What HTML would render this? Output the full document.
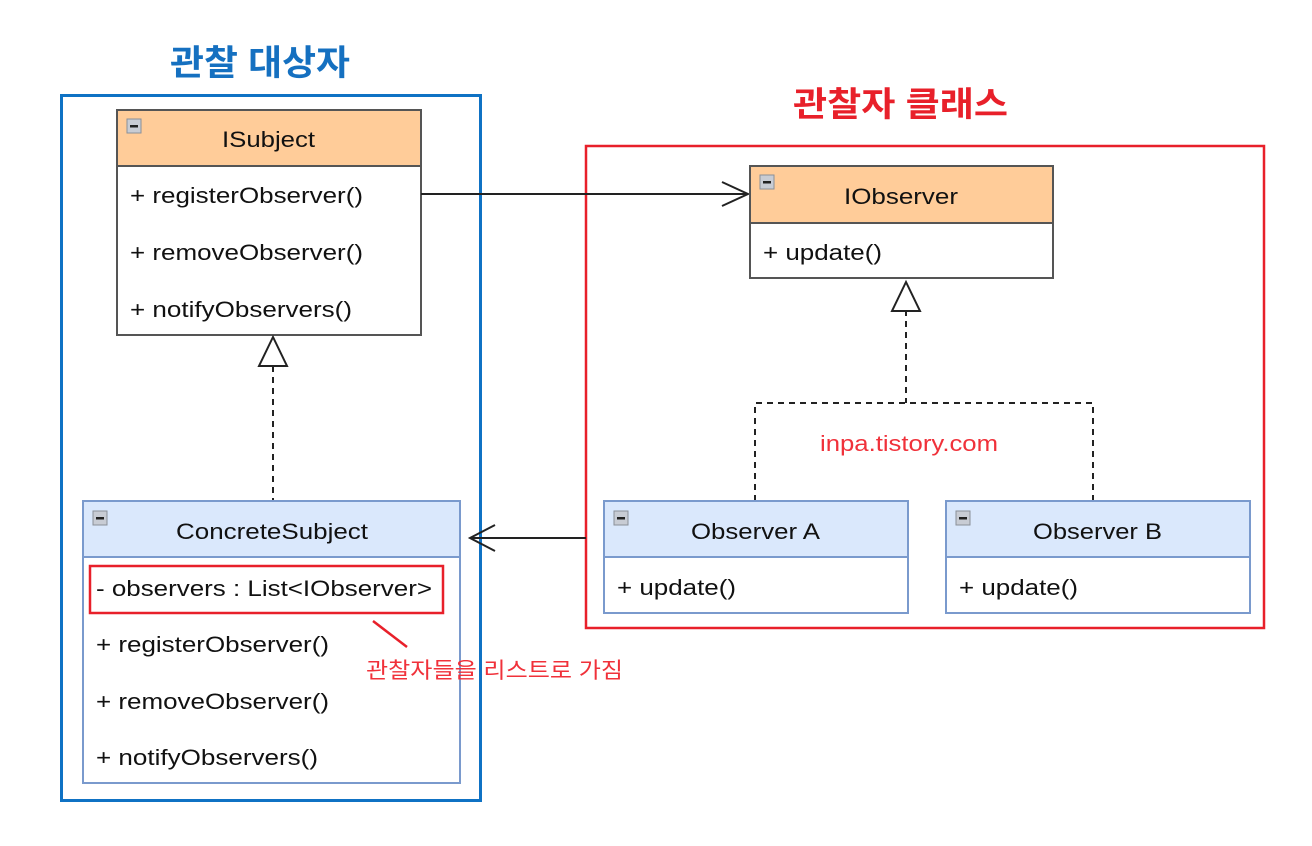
<!DOCTYPE html>
<html><head><meta charset="utf-8"><style>
html,body{margin:0;padding:0;background:#fff;}
svg{display:block;}
text{font-family:"Liberation Sans","Noto Sans CJK KR",sans-serif;}
</style></head><body>
<svg width="1312" height="846" viewBox="0 0 1312 846" xmlns="http://www.w3.org/2000/svg">
<defs>
<g id="mini"><rect x="0" y="0" width="14" height="14" fill="#c8ccd4" stroke="#8a8f99" stroke-width="1"/><rect x="3" y="6" width="8" height="2.5" fill="#222"/></g>
</defs>
<text x="170" y="75" font-size="35" font-weight="bold" fill="#1570c0" textLength="180" lengthAdjust="spacingAndGlyphs">관찰 대상자</text>
<text x="793" y="116" font-size="34" font-weight="bold" fill="#e8202a" textLength="215" lengthAdjust="spacingAndGlyphs">관찰자 클래스</text>
<rect x="61.5" y="95.5" width="419" height="705" fill="none" stroke="#0f72c4" stroke-width="3"/>
<rect x="586" y="146" width="678" height="482" fill="none" stroke="#e8202a" stroke-width="2.5"/>

<rect x="117" y="110" width="304" height="225" fill="#fff" stroke="#555" stroke-width="2"/>
<rect x="117" y="110" width="304" height="56" fill="#ffcc99" stroke="#555" stroke-width="2"/>
<use href="#mini" x="127" y="119"/>
<text x="222" y="147" font-size="22" fill="#111" textLength="93" lengthAdjust="spacingAndGlyphs">ISubject</text>
<text x="130" y="203" font-size="22" fill="#111" textLength="233" lengthAdjust="spacingAndGlyphs">+ registerObserver()</text>
<text x="130" y="260" font-size="22" fill="#111" textLength="233" lengthAdjust="spacingAndGlyphs">+ removeObserver()</text>
<text x="130" y="317" font-size="22" fill="#111" textLength="222" lengthAdjust="spacingAndGlyphs">+ notifyObservers()</text>

<line x1="273" y1="366" x2="273" y2="500" stroke="#222" stroke-width="2" stroke-dasharray="6,5"/>
<polygon points="273,337 259,366 287,366" fill="#fff" stroke="#222" stroke-width="2"/>

<rect x="83" y="501" width="377" height="282" fill="#fff" stroke="#7a9acd" stroke-width="2"/>
<rect x="83" y="501" width="377" height="56" fill="#dae8fc" stroke="#7a9acd" stroke-width="2"/>
<use href="#mini" x="93" y="511"/>
<text x="176" y="539" font-size="22" fill="#111" textLength="192" lengthAdjust="spacingAndGlyphs">ConcreteSubject</text>
<rect x="90" y="566" width="353" height="47" fill="none" stroke="#e8202a" stroke-width="2.5"/>
<text x="96" y="596" font-size="22" fill="#111" textLength="336" lengthAdjust="spacingAndGlyphs">- observers : List&lt;IObserver&gt;</text>
<text x="96" y="652" font-size="22" fill="#111" textLength="233" lengthAdjust="spacingAndGlyphs">+ registerObserver()</text>
<text x="96" y="709" font-size="22" fill="#111" textLength="233" lengthAdjust="spacingAndGlyphs">+ removeObserver()</text>
<text x="96" y="765" font-size="22" fill="#111" textLength="222" lengthAdjust="spacingAndGlyphs">+ notifyObservers()</text>
<line x1="373" y1="621" x2="407" y2="647" stroke="#e8202a" stroke-width="2.5"/>
<text x="366" y="678" font-size="22" fill="#f0313a" textLength="257" lengthAdjust="spacingAndGlyphs">관찰자들을 리스트로 가짐</text>

<line x1="421" y1="194" x2="748" y2="194" stroke="#222" stroke-width="2"/>
<polyline points="722,182 748,194 722,206" fill="none" stroke="#222" stroke-width="2"/>

<rect x="750" y="166" width="303" height="112" fill="#fff" stroke="#555" stroke-width="2"/>
<rect x="750" y="166" width="303" height="57" fill="#ffcc99" stroke="#555" stroke-width="2"/>
<use href="#mini" x="760" y="175"/>
<text x="844" y="204" font-size="22" fill="#111" textLength="114" lengthAdjust="spacingAndGlyphs">IObserver</text>
<text x="763" y="260" font-size="22" fill="#111" textLength="119" lengthAdjust="spacingAndGlyphs">+ update()</text>

<line x1="906" y1="310" x2="906" y2="403" stroke="#222" stroke-width="2" stroke-dasharray="6,5"/>
<polyline points="755,501 755,403 1093,403 1093,501" fill="none" stroke="#222" stroke-width="2" stroke-dasharray="6,5"/>
<polygon points="906,282 892,311 920,311" fill="#fff" stroke="#222" stroke-width="2"/>
<text x="820" y="451" font-size="22" fill="#f0313a" textLength="178" lengthAdjust="spacingAndGlyphs">inpa.tistory.com</text>

<rect x="604" y="501" width="304" height="112" fill="#fff" stroke="#7a9acd" stroke-width="2"/>
<rect x="604" y="501" width="304" height="56" fill="#dae8fc" stroke="#7a9acd" stroke-width="2"/>
<use href="#mini" x="614" y="511"/>
<text x="691" y="539" font-size="22" fill="#111" textLength="129" lengthAdjust="spacingAndGlyphs">Observer A</text>
<text x="617" y="595" font-size="22" fill="#111" textLength="119" lengthAdjust="spacingAndGlyphs">+ update()</text>

<rect x="946" y="501" width="304" height="112" fill="#fff" stroke="#7a9acd" stroke-width="2"/>
<rect x="946" y="501" width="304" height="56" fill="#dae8fc" stroke="#7a9acd" stroke-width="2"/>
<use href="#mini" x="956" y="511"/>
<text x="1033" y="539" font-size="22" fill="#111" textLength="129" lengthAdjust="spacingAndGlyphs">Observer B</text>
<text x="959" y="595" font-size="22" fill="#111" textLength="119" lengthAdjust="spacingAndGlyphs">+ update()</text>

<line x1="586" y1="538" x2="470" y2="538" stroke="#222" stroke-width="2"/>
<polyline points="495,525 470,538 495,551" fill="none" stroke="#222" stroke-width="2"/>
</svg>
</body></html>
